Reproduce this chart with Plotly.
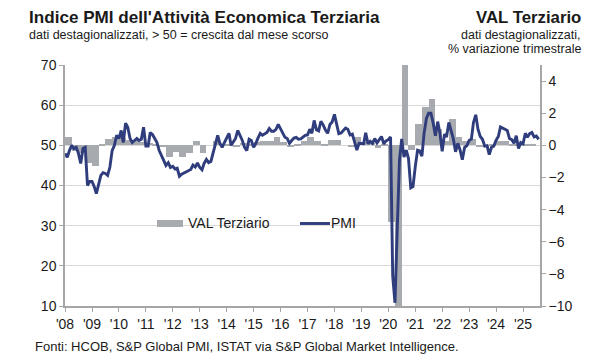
import pandas as pd
import plotly.graph_objects as go

# ---------------- data ----------------
pmi_2008 = [48.0, 47.0, 48.7, 50.0, 49.2, 49.5, 48.0, 45.5, 49.2, 49.5, 40.0, 41.0]
pmi_2009 = [41.0, 39.7, 38.0, 40.5, 42.5, 43.2, 43.0, 42.5, 44.6, 48.7, 50.0, 52.5]
pmi_2010 = [51.7, 53.7, 50.7, 55.5, 54.5, 51.7, 50.7, 51.2, 51.7, 51.2, 51.5, 54.5]
pmi_2011 = [49.8, 49.8, 53.2, 52.7, 51.5, 50.7, 48.7, 47.5, 46.5, 45.0, 45.7, 44.5]
pmi_2012 = [44.8, 44.1, 44.3, 42.3, 42.8, 43.1, 43.3, 43.7, 44.0, 45.1, 44.6, 45.6]
pmi_2013 = [44.5, 43.9, 45.5, 46.5, 45.7, 46.0, 48.0, 49.8, 52.5, 50.5, 49.5, 50.7]
pmi_2014 = [52.0, 53.0, 50.0, 51.0, 51.7, 53.7, 52.5, 51.2, 49.5, 48.7, 51.5, 51.2]
pmi_2015 = [49.5, 50.5, 51.8, 53.0, 52.5, 52.8, 53.2, 54.2, 53.5, 53.5, 54.0, 55.2]
pmi_2016 = [54.2, 53.2, 52.0, 51.7, 50.5, 51.2, 51.8, 52.0, 51.5, 51.6, 52.0, 52.5]
pmi_2017 = [52.6, 54.0, 53.0, 56.2, 53.9, 53.6, 56.0, 55.1, 53.8, 53.0, 55.2, 55.8]
pmi_2018 = [57.7, 54.7, 52.9, 53.1, 53.6, 54.3, 54.0, 52.6, 52.8, 50.5, 48.8, 50.5]
pmi_2019 = [50.5, 50.4, 53.1, 50.4, 51.0, 50.5, 51.7, 50.6, 51.4, 52.2, 50.4, 51.1]
pmi_2020 = [51.4, 52.1, 17.4, 10.8, 28.9, 46.4, 51.6, 47.1, 48.8, 46.7, 39.4, 39.7]
pmi_2021 = [44.7, 48.8, 48.6, 47.3, 53.1, 56.7, 58.0, 58.0, 55.5, 52.4, 55.9, 53.0]
pmi_2022 = [48.5, 52.8, 52.1, 55.7, 53.7, 51.6, 48.4, 50.5, 48.8, 46.4, 49.5, 49.9]
pmi_2023 = [51.2, 51.6, 55.7, 57.6, 54.0, 52.2, 51.5, 49.8, 49.9, 47.7, 49.5, 49.8]
pmi_2024 = [51.2, 52.2, 54.6, 54.3, 54.2, 53.7, 51.7, 51.4, 50.5, 52.4, 49.2, 50.7]
pmi_2025 = [50.4, 53.0, 52.0, 52.9, 53.2, 52.1, 52.3, 51.5]

val_2008 = [0.55, -0.35, -0.45, -1.1]
val_2009 = [-1.3, 0.05, 0.4, 0.5]
val_2010 = [0.45, 0.35, 0.35, 0.2]
val_2011 = [0.15, 0.05, -0.1, -0.75]
val_2012 = [-0.4, -0.7, -0.5, 0.27]
val_2013 = [-0.5, 0.0, 0.27, 0.05]
val_2014 = [0.05, -0.05, 0.15, 0.1]
val_2015 = [0.2, 0.3, 0.25, 0.55]
val_2016 = [0.2, -0.05, 0.05, 0.3]
val_2017 = [0.5, 0.3, 0.05, 0.35]
val_2018 = [0.35, 0.0, -0.05, 0.55]
val_2019 = [0.2, 0.15, -0.15, 0.1]
val_2020 = [-4.8, -11.0, 9.0, -0.3]
val_2021 = [1.35, 2.4, 2.9, 1.0]
val_2022 = [0.3, 1.65, 0.5, 0.3]
val_2023 = [0.4, -0.05, -0.05, 0.05]
val_2024 = [0.3, 0.3, 0.1, 0.1]
val_2025 = [0.1, 0.05]

year_ticks = list(range(2008, 2026))
year_labels = ["'%02d" % (y % 100) for y in year_ticks]

pmi = (pmi_2008 + pmi_2009 + pmi_2010 + pmi_2011 + pmi_2012 + pmi_2013 + pmi_2014 +
       pmi_2015 + pmi_2016 + pmi_2017 + pmi_2018 + pmi_2019 + pmi_2020 + pmi_2021 +
       pmi_2022 + pmi_2023 + pmi_2024 + pmi_2025)
val = (val_2008 + val_2009 + val_2010 + val_2011 + val_2012 + val_2013 + val_2014 +
       val_2015 + val_2016 + val_2017 + val_2018 + val_2019 + val_2020 + val_2021 +
       val_2022 + val_2023 + val_2024 + val_2025)

months = pd.date_range("2008-01-01", periods=len(pmi), freq="MS")
quarters = pd.date_range("2008-01-01", periods=len(val), freq="QS") + pd.Timedelta(days=45)

# ---------------- styling ----------------
FONT = "Liberation Sans, Arial, sans-serif"
NAVY = "#2f3d7d"
GREY_BAR = "#a7aaae"
AXIS = "#a6a6a6"
GRID = "#d9d9d9"
TXT = "#1a1a1a"

L, R, T, B = 65, 60, 65, 54
W, H = 600, 360
PW, PH = W - L - R, H - T - B

def px(x):
    return (x - L) / PW

def py(y):
    return (H - B - y) / PH

fig = go.Figure()
fig.add_trace(go.Bar(
    x=quarters, y=val, yaxis="y", marker=dict(color=GREY_BAR, line=dict(width=0)),
    width=92 * 86400000, name="VAL Terziario", showlegend=False,
))
fig.add_trace(go.Scatter(
    x=months, y=pmi, yaxis="y2", mode="lines",
    line=dict(color=NAVY, width=2.9), name="PMI", showlegend=False,
))

tick_font = dict(family=FONT, size=14, color=TXT)
fig.update_layout(
    width=W, height=H,
    margin=dict(l=L, r=R, t=T, b=B),
    paper_bgcolor="white", plot_bgcolor="white",
    bargap=0,
    font=dict(family=FONT, color=TXT),
    xaxis=dict(
        type="date",
        range=["2008-01-01", "2025-08-19"],
        tickvals=[f"{y}-01-01" for y in year_ticks],
        ticktext=year_labels,
        ticks="outside", ticklen=4, tickcolor=AXIS, tickwidth=1,
        showline=True, linecolor=AXIS, linewidth=1.5,
        showgrid=False, zeroline=False,
        tickfont=tick_font,
    ),
    yaxis=dict(
        side="right", range=[-10, 5], tickvals=list(range(-10, 5, 2)),
        ticks="outside", ticklen=4, tickcolor=AXIS,
        showline=True, linecolor=AXIS, linewidth=1.5,
        showgrid=False, zeroline=False, tickfont=tick_font,
    ),
    yaxis2=dict(
        side="left", overlaying="y", range=[10, 70], dtick=10,
        ticks="outside", ticklen=4, tickcolor=AXIS,
        showline=True, linecolor=AXIS, linewidth=1.5,
        showgrid=True, gridcolor=GRID, gridwidth=1, zeroline=False,
        tickfont=tick_font,
    ),
)

ann = [
    dict(text="<b>Indice PMI dell'Attività Economica Terziaria</b>", x=px(27), y=py(17),
         xanchor="left", yanchor="middle", font=dict(size=17.1)),
    dict(text="dati destagionalizzati, > 50 = crescita dal mese scorso", x=px(27), y=py(35),
         xanchor="left", yanchor="middle", font=dict(size=12.5)),
    dict(text="<b>VAL Terziario</b>", x=px(583), y=py(17),
         xanchor="right", yanchor="middle", font=dict(size=16.8)),
    dict(text="dati destagionalizzati,", x=px(583), y=py(35),
         xanchor="right", yanchor="middle", font=dict(size=12.5)),
    dict(text="% variazione trimestrale", x=px(583), y=py(49),
         xanchor="right", yanchor="middle", font=dict(size=12.5)),
    dict(text="Fonti: HCOB, S&P Global PMI, ISTAT via S&P Global Market Intelligence.",
         x=px(33), y=py(346), xanchor="left", yanchor="middle", font=dict(size=13)),
    dict(text="VAL Terziario", x=px(186), y=py(223), xanchor="left", yanchor="middle",
         font=dict(size=14)),
    dict(text="PMI", x=px(329), y=py(223), xanchor="left", yanchor="middle",
         font=dict(size=14)),
]
for a in ann:
    a.update(xref="paper", yref="paper", showarrow=False)
    a["font"] = dict(family=FONT, color=TXT, **a["font"])
fig.update_layout(annotations=ann)

shapes = [
    dict(type="rect", x0=px(150), x1=px(276), y0=py(231), y1=py(214),
         fillcolor="white", line=dict(width=0), layer="between"),
    dict(type="rect", x0=px(297), x1=px(359), y0=py(231), y1=py(214),
         fillcolor="white", line=dict(width=0), layer="between"),
    dict(type="rect", x0=px(157), x1=px(183), y0=py(227), y1=py(220),
         fillcolor=GREY_BAR, line=dict(width=0)),
    dict(type="line", x0=px(300), x1=px(330), y0=py(223.5), y1=py(223.5),
         line=dict(color=NAVY, width=2.9)),
]
for s in shapes:
    s.update(xref="paper", yref="paper")
fig.update_layout(shapes=shapes)

fig.write_html("out.html", config={"displayModeBar": False},
               post_script="document.body.style.margin='0';")
